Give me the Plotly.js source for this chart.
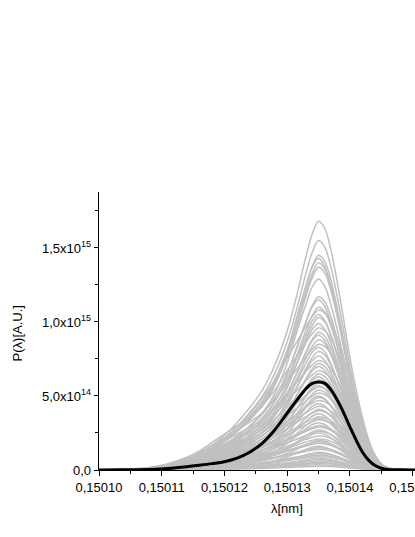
<!DOCTYPE html>
<html><head><meta charset="utf-8">
<script src="https://cdn.plot.ly/plotly-3.0.1.min.js"></script>
<style>html,body{margin:0;padding:0;overflow:hidden;background:#fff}#chart{width:520px;height:537px}</style>
</head><body><div id="chart"></div>
<script>
// wavelength sample positions, in units of 1e-6 nm past 0.15010 nm
const offsetsMicro = [0,4,8,11,14,16,18,20,22,24,26,28,30,31.5,33,34,35,36,37,38.5,40,41,42,43,44,45,46,48,52,56,66];
// normalised spectral profiles
const profileA = [0,0.002,0.008,0.02,0.045,0.07,0.1,0.14,0.19,0.25,0.32,0.42,0.56,0.7,0.86,0.95,1.0,0.97,0.88,0.68,0.45,0.32,0.21,0.12,0.06,0.025,0.01,0.002,0,0,0];
const profileB = [0,0.003,0.012,0.03,0.06,0.09,0.13,0.17,0.21,0.25,0.3,0.4,0.56,0.72,0.87,0.96,1.0,0.96,0.86,0.66,0.44,0.31,0.2,0.11,0.05,0.02,0.008,0.002,0,0,0];
const profileC = [0,0.004,0.015,0.035,0.07,0.1,0.14,0.2,0.27,0.35,0.45,0.56,0.7,0.8,0.9,0.96,1.0,0.98,0.92,0.76,0.54,0.4,0.27,0.16,0.08,0.035,0.014,0.003,0,0,0];
// peak heights of the individual gray spectra (units of 1e15)
const peakHeights = [1.68,1.55,1.45,1.43,1.40,1.37,1.29,1.17,1.15,1.10,1.08,1.05,1.03,0.99,0.96,0.93,0.91,0.88,0.85,0.83,0.80,0.77,0.74,0.72,0.70,0.67,0.65,0.63,0.61,0.59,0.57,0.56,0.54,0.52,0.50,0.49,0.47,0.45,0.43,0.41,0.40,0.38,0.36,0.35,0.34,0.32,0.30,0.29,0.27,0.26,0.25,0.23,0.21,0.20,0.19,0.18,0.16,0.15,0.14,0.12,0.11,0.10,0.09,0.08,0.07,0.06,0.05,0.045,0.035,0.025];
const profileChoice = ['A','A','A','B','A','A','B','A','B','A','C','B','A','B','C','A','B','A','C','B','A','B','C','A','B','C','A','B','C','A','B','C','A','C','B','A','C','B','C','A','C','B','C','A','C','B','C','C','A','C','B','C','C','A','C','C','B','C','C','A','C','C','C','B','C','C','C','C','C','C'];
// average spectrum (black), units of 1e15
const meanSpectrum = [0,0.001,0.004,0.01,0.022,0.032,0.043,0.056,0.08,0.12,0.18,0.27,0.385,0.47,0.55,0.585,0.595,0.585,0.54,0.43,0.29,0.2,0.12,0.065,0.03,0.012,0.004,0.001,0,0,0];

const xTickVals = [0.15010,0.15011,0.15012,0.15013,0.15014,0.15015,0.15016];
const xTickText = ['0,15010','0,15011','0,15012','0,15013','0,15014','0,15015','0,15016'];
const yTickVals = [0,5e14,1e15,1.5e15];
const yTickText = ['0,0','5,0x10<sup>14</sup>','1,0x10<sup>15</sup>','1,5x10<sup>15</sup>'];

const profiles = {A:profileA,B:profileB,C:profileC};
const xs = offsetsMicro.map(o => 0.15010 + o*1e-6);
const traces = [];
peakHeights.forEach((h,i) => {
  const p = profiles[profileChoice[i]];
  traces.push({x:xs, y:p.map(v=>v*h*1e15), type:'scatter', mode:'lines',
    line:{color:'#c0c0c0', width:1.5, shape:'spline', smoothing:1}, hoverinfo:'skip', showlegend:false});
});
traces.push({x:xs, y:meanSpectrum.map(v=>v*1e15), type:'scatter', mode:'lines',
  line:{color:'#000', width:3, shape:'spline', smoothing:1}, showlegend:false});

const fnt = {family:'Liberation Sans, Arial, sans-serif', size:13, color:'#000'};
const layout = {
  width:520, height:537,
  margin:{l:98.5, r:10, t:192, b:67},
  paper_bgcolor:'#fff', plot_bgcolor:'#fff',
  font:fnt,
  xaxis:{range:[0.15010, 0.15010+65.5e-6], showgrid:false, zeroline:false,
    showline:true, linecolor:'#000', linewidth:1.3, ticks:'outside', ticklen:5, tickwidth:1, tickcolor:'#000',
    tickmode:'array', tickvals:xTickVals, ticktext:xTickText, tickfont:fnt,
    minor:{tickmode:'array', tickvals:[0.150105,0.150115,0.150125,0.150135,0.150145,0.150155], ticks:'outside', ticklen:3, tickcolor:'#000', tickwidth:1, showgrid:false}},
  yaxis:{range:[0,1.878e15], showgrid:false, zeroline:false,
    showline:true, linecolor:'#000', linewidth:1.3, ticks:'outside', ticklen:4, tickwidth:1, tickcolor:'#000',
    tickmode:'array', tickvals:yTickVals, ticktext:yTickText, tickfont:fnt,
    minor:{tickmode:'array', tickvals:[2.5e14,7.5e14,1.25e15,1.75e15], ticks:'outside', ticklen:3, tickcolor:'#000', tickwidth:1, showgrid:false}},
  annotations:[
    {text:'λ[nm]', xref:'x', yref:'paper', x:0.15013, y:-0.137, showarrow:false, font:{...fnt, size:13}, xanchor:'center', yanchor:'middle'},
    {text:'P(λ)[A.U.]', xref:'paper', yref:'paper', x:-0.198, y:0.49, textangle:-90, showarrow:false, font:{...fnt, size:13}, xanchor:'center', yanchor:'middle'}
  ]
};
Plotly.newPlot('chart', traces, layout, {displayModeBar:false, staticPlot:true});
</script></body></html>
